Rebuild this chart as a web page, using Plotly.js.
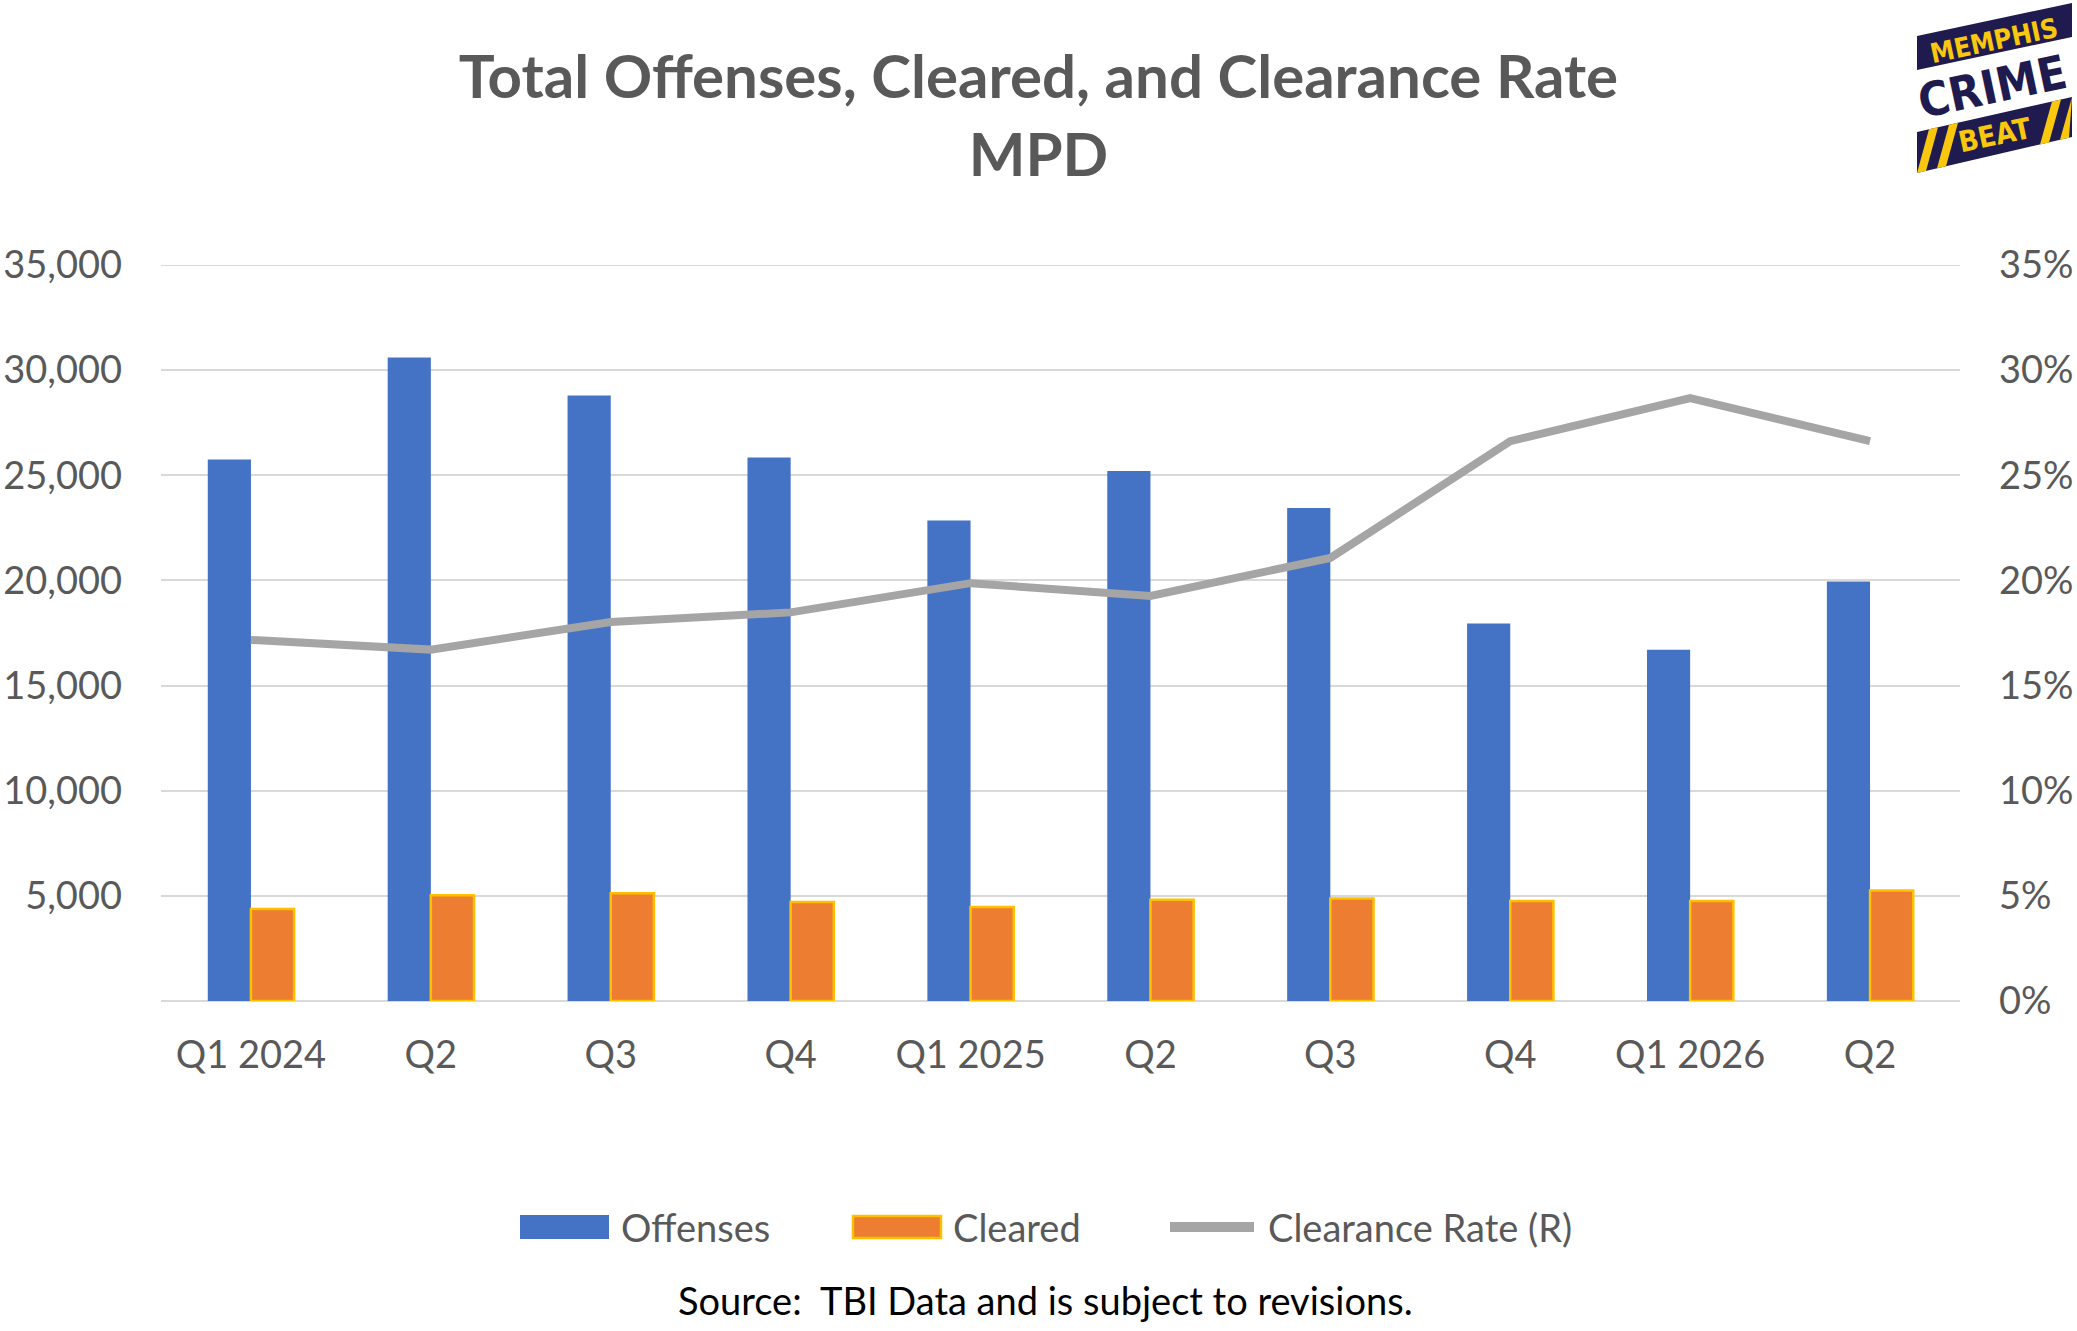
<!DOCTYPE html>
<html>
<head>
<meta charset="utf-8">
<script src="https://cdn.plot.ly/plotly-3.0.1.min.js"></script>
<style>
  body { margin: 0; background: #fff; }
  #grafico { width: 2077px; height: 1331px; }
</style>
</head>
<body>
<div id="grafico"></div>
<script>
// dados
const trimestres = ['Q1 2024', 'Q2', 'Q3', 'Q4', 'Q1 2025', 'Q2', 'Q3', 'Q4', 'Q1 2026', 'Q2'];
const ofensas = [25750, 30600, 28800, 25850, 22850, 25200, 23450, 17950, 16700, 19950];
const esclarecidos = [4370, 5030, 5120, 4710, 4470, 4810, 4880, 4760, 4760, 5250];
const taxaEsclarecimento = [0.1717, 0.1671, 0.1802, 0.1848, 0.1987, 0.1926, 0.2107, 0.2662, 0.2867, 0.2662];
const ticksEsquerda = [5000, 10000, 15000, 20000, 25000, 30000, 35000];
const ticksDireita = [0, 0.05, 0.10, 0.15, 0.20, 0.25, 0.30, 0.35];

// posicoes no eixo x (um indice por trimestre, rotulos repetem)
const posX = trimestres.map((t, i) => i);

// medidas da pagina
const W = 2077, H = 1331, ML = 161, MR = 117, MT = 265, MB = 330;
const PW = W - ML - MR, PH = H - MT - MB;
function px(x) { return (x - ML) / PW; }
function py(y) { return (MT + PH - y) / PH; }

const fonte = 'Lato, "Open Sans", sans-serif';
const cinzaTexto = '#595959';
const azul = '#4472C4', laranja = '#ED7D31', dourado = '#FFC000', cinza = '#A5A5A5';
const marinho = '#1F1B4E', amarelo = '#F9C80E';
const corGrade = '#D9D9D9';

var trace1 = {
  x: posX, y: ofensas, type: 'bar', name: 'Offenses',
  marker: { color: azul }
};
var trace2 = {
  x: posX, y: esclarecidos, type: 'bar', name: 'Cleared',
  marker: { color: laranja, line: { color: dourado, width: 2.5 } }
};
var trace3 = {
  x: posX, y: taxaEsclarecimento, type: 'scatter', mode: 'lines', name: 'Clearance Rate (R)',
  yaxis: 'y2',
  line: { color: cinza, width: 8 }
};

let formas = [
  // linha de grade do topo (o plotly corta a grade na borda)
  { type: 'line', xref: 'paper', yref: 'y', x0: 0, x1: 1, y0: ticksEsquerda[ticksEsquerda.length - 1],
    y1: ticksEsquerda[ticksEsquerda.length - 1], line: { color: corGrade, width: 2 }, layer: 'below' },
  // legenda desenhada a mao (quadros largos como no Excel)
  { type: 'rect', xref: 'paper', yref: 'paper', x0: px(520), x1: px(609), y0: py(1239), y1: py(1215),
    fillcolor: azul, line: { width: 0 } },
  { type: 'rect', xref: 'paper', yref: 'paper', x0: px(853), x1: px(941), y0: py(1238), y1: py(1216),
    fillcolor: laranja, line: { color: dourado, width: 2.5 } },
  { type: 'line', xref: 'paper', yref: 'paper', x0: px(1170), x1: px(1254), y0: py(1227), y1: py(1227),
    line: { color: cinza, width: 10 } }
];

// logo Memphis Crime Beat
function poli(pts, cor) {
  let d = pts.map((p, k) => (k ? 'L' : 'M') + px(p[0]) + ',' + py(p[1])).join(' ') + ' Z';
  return { type: 'path', xref: 'paper', yref: 'paper', path: d, fillcolor: cor, line: { width: 0 }, layer: 'above' };
}
formas.push(poli([[1917, 36], [2072, 3], [2072, 37], [1917, 70]], marinho));
formas.push(poli([[1917, 132], [2072, 97], [2072, 137], [1917, 173]], marinho));
// listras amarelas
function topo(x) { return 132 - (x - 1917) * 0.226; }
function base(x) { return 173 - (x - 1917) * 0.232; }
[[1917, 1929], [1937, 1949], [2040, 2052], [2060, 2072]].forEach(s => {
  let b0 = s[0], b1 = s[1] - 3, t0 = Math.min(s[0] + 12, 2072), t1 = Math.min(s[1] + 9, 2072);
  formas.push(poli([[b0, base(b0)], [b1, base(b1)], [t1, topo(t1)], [t0, topo(t0)]], amarelo));
});

const fonteLogo = '"DejaVu Sans Condensed", "Liberation Sans Narrow", "Liberation Sans", sans-serif';

var anotacoes = [
  { xref: 'paper', yref: 'paper', x: px(619), y: py(1227), xanchor: 'left', yanchor: 'middle', showarrow: false,
    text: 'Offenses', font: { family: fonte, size: 38, color: cinzaTexto } },
  { xref: 'paper', yref: 'paper', x: px(951), y: py(1227), xanchor: 'left', yanchor: 'middle', showarrow: false,
    text: 'Cleared', font: { family: fonte, size: 38, color: cinzaTexto } },
  { xref: 'paper', yref: 'paper', x: px(1266), y: py(1227), xanchor: 'left', yanchor: 'middle', showarrow: false,
    text: 'Clearance Rate (R)', font: { family: fonte, size: 38, color: cinzaTexto } },
  { xref: 'paper', yref: 'paper', x: px(1045), y: py(1300), xanchor: 'center', yanchor: 'middle', showarrow: false,
    text: 'Source:  TBI Data and is subject to revisions.', font: { family: fonte, size: 38, color: '#000000' } },
  // logo
  { xref: 'paper', yref: 'paper', x: px(1994), y: py(40), xanchor: 'center', yanchor: 'middle', showarrow: false,
    textangle: -12, text: '<b>MEMPHIS</b>', font: { family: fonteLogo, size: 27, color: amarelo } },
  { xref: 'paper', yref: 'paper', x: px(1992), y: py(86), xanchor: 'center', yanchor: 'middle', showarrow: false,
    textangle: -12, text: '<b>CRIME</b>', font: { family: fonteLogo, size: 47, color: marinho } },
  { xref: 'paper', yref: 'paper', x: px(1995), y: py(135), xanchor: 'center', yanchor: 'middle', showarrow: false,
    textangle: -12, text: '<b>BEAT</b>', font: { family: fonteLogo, size: 29, color: amarelo } }
];

var layout = {
  width: W, height: H,
  margin: { l: ML, r: MR, t: MT, b: MB, pad: 0 },
  paper_bgcolor: '#ffffff', plot_bgcolor: '#ffffff',
  showlegend: false,
  hovermode: false,
  barmode: 'group', bargap: 0.52, bargroupgap: 0,
  title: {
    text: '<b>Total Offenses, Cleared, and Clearance Rate<br>MPD</b>',
    font: { family: fonte, size: 60, color: cinzaTexto },
    x: 0.5, xref: 'container', xanchor: 'center',
    y: 1 - 98 / H, yref: 'container', yanchor: 'middle'
  },
  xaxis: {
    range: [-0.5, 9.5], tickmode: 'array', tickvals: posX, ticktext: trimestres,
    showgrid: false, zeroline: false, showline: false, ticks: '',
    ticklabelstandoff: 28,
    tickfont: { family: fonte, size: 38, color: cinzaTexto }
  },
  yaxis: {
    range: [0, 35000], tickmode: 'array', tickvals: ticksEsquerda, tickformat: ',d',
    showgrid: true, gridcolor: corGrade, gridwidth: 2,
    zeroline: true, zerolinecolor: corGrade, zerolinewidth: 2, showline: false,
    ticks: '', ticklabelstandoff: 38,
    tickfont: { family: fonte, size: 38, color: cinzaTexto }
  },
  yaxis2: {
    range: [0, 0.35], overlaying: 'y', side: 'right', tickmode: 'array', tickvals: ticksDireita, tickformat: '.0%',
    showgrid: false, zeroline: false, showline: false, ticks: '', ticklabelstandoff: 38,
    tickfont: { family: fonte, size: 38, color: cinzaTexto }
  },
  shapes: formas,
  annotations: anotacoes
};

Plotly.newPlot('grafico', [trace1, trace2, trace3], layout, { staticPlot: true });
</script>
</body>
</html>
